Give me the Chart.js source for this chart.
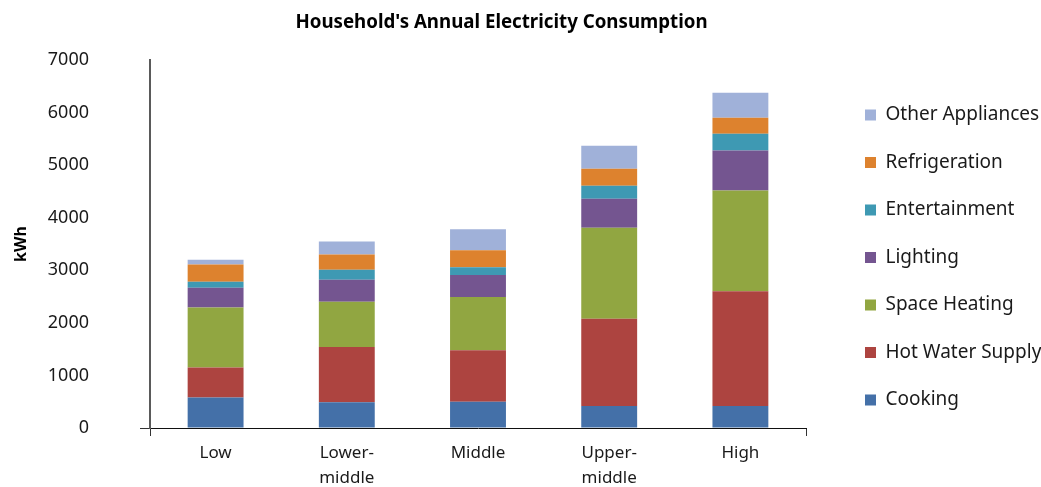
<!DOCTYPE html>
<html>
<head>
<meta charset="utf-8">
<script src="https://cdn.jsdelivr.net/npm/chart.js@4.4.1/dist/chart.umd.min.js"></script>
<style>
	html, body { margin: 0; padding: 0; background: #fff; overflow: hidden; }
	canvas { display: block; }
</style>
</head>
<body>
<canvas id="mycanvas" width="1041" height="487"></canvas>
<script>
var categories = [['Low'], ['Lower-', 'middle'], ['Middle'], ['Upper-', 'middle'], ['High']];

var cooking       = [580, 490, 500, 420, 420];
var hotWater      = [570, 1050, 980, 1660, 2180];
var spaceHeating  = [1140, 860, 1010, 1730, 1920];
var lighting      = [380, 420, 420, 550, 760];
var entertainment = [110, 190, 150, 250, 320];
var refrigeration = [330, 290, 320, 320, 300];
var otherAppl     = [90, 250, 400, 440, 480];

var yTicks = [0, 1000, 2000, 3000, 4000, 5000, 6000, 7000];

var font = "'Noto Sans', sans-serif";

function ds(label, data, color){
	return {
		label: label,
		data: data,
		backgroundColor: color,
		borderWidth: 0,
		categoryPercentage: 1,
		barPercentage: 0.426
	};
}

var chartdata = {
	labels: categories,
	datasets: [
		ds('Cooking', cooking, '#4470A8'),
		ds('Hot Water Supply', hotWater, '#AD4440'),
		ds('Space Heating', spaceHeating, '#91A641'),
		ds('Lighting', lighting, '#745590'),
		ds('Entertainment', entertainment, '#3E99B3'),
		ds('Refrigeration', refrigeration, '#DD822E'),
		ds('Other Appliances', otherAppl, '#A0B1D9')
	]
};

// the original title sits a bit left of the canvas centre
var titleShift = {
	id: 'titleShift',
	afterInit: function(chart){
		var tb = chart.titleBlock;
		if (!tb) return;
		var orig = tb.draw.bind(tb);
		tb.draw = function(){
			chart.ctx.save();
			chart.ctx.translate(-19, 0);
			orig();
			chart.ctx.restore();
		};
	}
};

var ctx = document.getElementById('mycanvas');
var barGraph = new Chart(ctx, {
	type: 'bar',
	data: chartdata,
	plugins: [titleShift],
	options: {
		responsive: false,
		animation: false,
		devicePixelRatio: 1,
		layout: { padding: 0 },
		plugins: {
			title: {
				display: true,
				text: "Household's Annual Electricity Consumption",
				color: '#000',
				font: { family: font, size: 18.7, weight: 'bold', lineHeight: 1.2 },
				padding: { top: 11, bottom: 26.6 }
			},
			legend: {
				position: 'right',
				align: 'start',
				reverse: true,
				maxWidth: 204.5,
				title: { display: true, text: ' ', font: { size: 10, lineHeight: 1 }, padding: { top: 32, bottom: 35 } },
				labels: {
					boxWidth: 11,
					boxHeight: 11,
					padding: 28.5,
					color: '#1a1a1a',
					font: { family: font, size: 19 }
				}
			},
			tooltip: { enabled: false }
		},
		scales: {
			x: {
				stacked: true,
				offset: true,
				afterFit: function(s){ s.height = 59; },
				grid: {
					offset: true,
					drawOnChartArea: false,
					tickLength: 8,
					color: function(c){ return (c.type === 'scale' || c.index === 0) ? '#333' : 'rgba(0,0,0,0)'; }
				},
				border: { display: true, color: '#111', width: 1 },
				ticks: {
					padding: 5,
					color: '#1a1a1a',
					font: { family: font, size: 17, lineHeight: 1.45 },
					maxRotation: 0
				}
			},
			y: {
				stacked: true,
				min: 0,
				max: 7000,
				afterFit: function(s){
					s.width = 150;
					// big label gap shouldn't eat vertical room
					s.paddingTop = 11;
					s.paddingBottom = 11;
				},
				afterBuildTicks: function(s){ s.ticks = yTicks.map(function(v){ return {value: v}; }); },
				grid: {
					drawOnChartArea: false,
					tickLength: 10,
					color: function(c){ return (c.tick && c.tick.value === 0) ? '#333' : 'rgba(0,0,0,0)'; }
				},
				border: { display: true, color: '#5a5a5a', width: 2 },
				ticks: {
					padding: 51,
					color: '#1a1a1a',
					font: { family: font, size: 18 },
					callback: function(v){ return String(v); }
				},
				title: {
					display: true,
					text: 'kWh',
					color: '#000',
					font: { family: font, size: 16, weight: 'bold' },
					padding: { top: 12, bottom: 0 }
				}
			},
			pad: {
				type: 'linear',
				position: 'right',
				display: true,
				afterFit: function(s){ s.width = 30.5; },
				grid: { display: false },
				border: { display: false },
				ticks: { display: false }
			}
		}
	}
});
</script>
</body>
</html>
